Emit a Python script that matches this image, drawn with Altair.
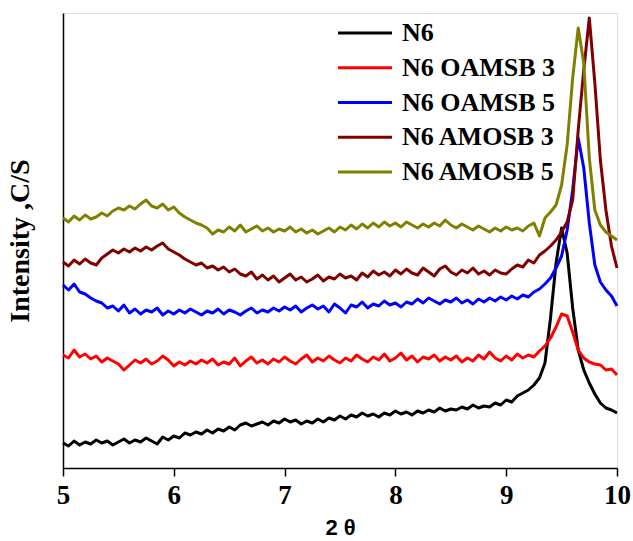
import altair as alt
import pandas as pd

# 2-theta sampling grid (5.00 .. 10.00, step 0.05)
two_theta = [round(5 + 0.05 * i, 2) for i in range(101)]

series_names = ["N6", "N6 OAMSB 3", "N6 OAMSB 5", "N6 AMOSB 3", "N6 AMOSB 5"]
series_colors = ["#000000", "#ff0000", "#0000ff", "#800000", "#808000"]

n6 = [25, 22, 27, 23, 26, 24, 28, 25, 27, 23,
      26, 29, 25, 28, 26, 30, 27, 24, 31, 28,
      32, 30, 35, 33, 36, 34, 38, 35, 39, 37,
      41, 38, 43, 45, 42, 44, 46, 43, 47, 45,
      49, 46, 48, 44, 47, 45, 49, 46, 50, 48,
      52, 49, 53, 51, 55, 52, 54, 51, 55, 53,
      57, 54, 56, 53, 57, 55, 58, 56, 60, 57,
      59, 58, 61, 59, 63, 60, 62, 61, 65, 63,
      68, 66, 72, 75, 78, 83, 90, 105, 150, 205,
      240, 215, 160, 118, 98, 85, 74, 65, 60, 58,
      55]

oamsb3 = [113, 110, 118, 111, 114, 109, 112, 106, 110, 107,
          104, 98, 103, 108, 105, 109, 104, 107, 112, 108,
          102, 106, 103, 107, 104, 108, 105, 109, 103, 106,
          104, 110, 102, 107, 111, 105, 108, 104, 109, 106,
          111, 107, 104, 109, 113, 106, 110, 107, 112, 108,
          105, 110, 107, 113, 109, 106, 111, 108, 114, 107,
          110, 115, 108, 112, 106, 111, 109, 113, 107, 111,
          108, 112, 106, 110, 107, 113, 109, 116, 110, 107,
          112, 108, 114, 110, 113, 111, 117, 122, 130, 141,
          154, 152, 136, 118, 110, 106, 104, 103, 98, 99,
          93]

oamsb5 = [183, 178, 184, 176, 174, 170, 167, 165, 160, 162,
          157, 163, 155, 159, 154, 158, 156, 160, 153, 157,
          154, 158, 155, 159, 156, 153, 157, 155, 159, 154,
          158, 156, 153, 157, 160, 155, 158, 156, 160, 157,
          161, 158, 162, 156, 160, 163, 159, 162, 156, 164,
          160, 155, 163, 161, 166, 160, 164, 162, 167, 163,
          165, 161, 166, 164, 169, 165, 170, 167, 164, 168,
          166, 170, 165, 168, 164, 169, 166, 170, 167, 171,
          168, 172, 169, 173, 171, 176, 179, 184, 190, 200,
          212, 238, 278, 330, 300, 245, 203, 186, 178, 172,
          162]

amosb3 = [206, 202, 208, 204, 209, 205, 203, 210, 214, 218,
          215, 219, 216, 220, 217, 221, 218, 222, 225, 219,
          216, 213, 209, 206, 203, 205, 200, 202, 198, 201,
          196, 199, 194, 192, 196, 189, 193, 188, 192, 186,
          190, 194, 188, 191, 186, 189, 193, 187, 191, 189,
          194, 190, 192, 188, 195, 191, 197, 193, 196, 192,
          198, 194, 199, 195, 193, 200, 196, 192, 199, 202,
          196, 193, 198, 195, 200, 194, 197, 193, 198, 195,
          194, 199, 203, 201, 208, 205, 213, 217, 222, 228,
          236, 246, 268, 338, 398, 450, 385, 308, 258, 222,
          200]

amosb5 = [250, 246, 252, 248, 253, 249, 251, 255, 252, 257,
          260, 258, 262, 259, 264, 268, 262, 260, 264, 258,
          261, 255, 251, 248, 245, 243, 240, 234, 238, 236,
          241, 237, 243, 236, 239, 242, 237, 240, 236, 239,
          237, 241, 236, 239, 235, 238, 234, 237, 240, 236,
          241, 238, 243, 239, 244, 240, 245, 241, 246, 242,
          245, 241, 246, 243, 240, 244, 241, 245, 242, 248,
          243, 240, 244, 241, 238, 242, 239, 236, 240, 237,
          241, 238, 240, 237, 242, 245, 232, 250, 256, 263,
          283, 323, 390, 440, 405, 310, 258, 243, 236, 232,
          228]

x_ticks_all = [5, 5.5, 6, 6.5, 7, 7.5, 8, 8.5, 9, 9.5, 10]

frames = []
for name, vals in zip(series_names, [n6, oamsb3, oamsb5, amosb3, amosb5]):
    frames.append(pd.DataFrame({"theta": two_theta, "intensity": vals, "series": name}))
df = pd.concat(frames, ignore_index=True)

legend_df = pd.DataFrame({"series": series_names})

color_scale = alt.Scale(domain=series_names, range=series_colors)

lines = alt.Chart(df).mark_line(strokeWidth=3, strokeJoin="round").encode(
    x=alt.X("theta:Q",
            scale=alt.Scale(domain=[5, 10], nice=False, zero=False),
            axis=alt.Axis(values=x_ticks_all, title="2 θ", format="d",
                          labelExpr="datum.value % 1 === 0 ? datum.label : ''",
                          tickSize={"condition": {"test": "datum.value % 1 === 0", "value": 8}, "value": 4},
                          tickColor="black", tickWidth=1.5,
                          domainColor="black", domainWidth=1.5,
                          labelFont="Liberation Serif", labelFontWeight="bold",
                          labelFontSize=27, labelColor="black", labelPadding=6,
                          labelFlush=False,
                          titleFont="Liberation Sans", titleFontWeight="bold",
                          titleFontSize=22, titleColor="black", titlePadding=9,
                          grid=False)),
    y=alt.Y("intensity:Q",
            scale=alt.Scale(domain=[0, 455], nice=False, zero=False),
            axis=alt.Axis(title="Intensity ,C/S", labels=False, ticks=False,
                          domainColor="black", domainWidth=1.5,
                          titleFont="Liberation Serif", titleFontWeight="bold",
                          titleFontSize=28, titleColor="black", titlePadding=29,
                          grid=False)),
    color=alt.Color("series:N", scale=color_scale, legend=None),
    order=alt.Order("series:N"),
)

legend_y = alt.Y("series:N", sort=series_names,
                 scale=alt.Scale(type="point", domain=series_names,
                                 range=[20, 159], padding=0),
                 axis=None)

legend_lines = alt.Chart(legend_df).mark_rule(strokeWidth=3).encode(
    x=alt.value(275), x2=alt.value(329),
    y=legend_y,
    color=alt.Color("series:N", scale=color_scale, legend=None),
)

legend_text = alt.Chart(legend_df).mark_text(
    align="left", baseline="middle", font="Liberation Serif",
    fontWeight="bold", fontSize=26, color="black",
).encode(
    x=alt.value(339),
    y=legend_y,
    text="series:N",
)

chart = alt.layer(lines, legend_lines, legend_text).resolve_scale(
    y="independent"
).properties(
    width=554, height=455,
    autosize=alt.AutoSizeParams(type="none"),
    padding={"left": 63, "top": 13, "right": 16, "bottom": 73},
).configure_view(stroke="black", strokeWidth=1.5).configure(background="white")

chart.save("out.html", embed_options={"renderer": "svg", "actions": False})
